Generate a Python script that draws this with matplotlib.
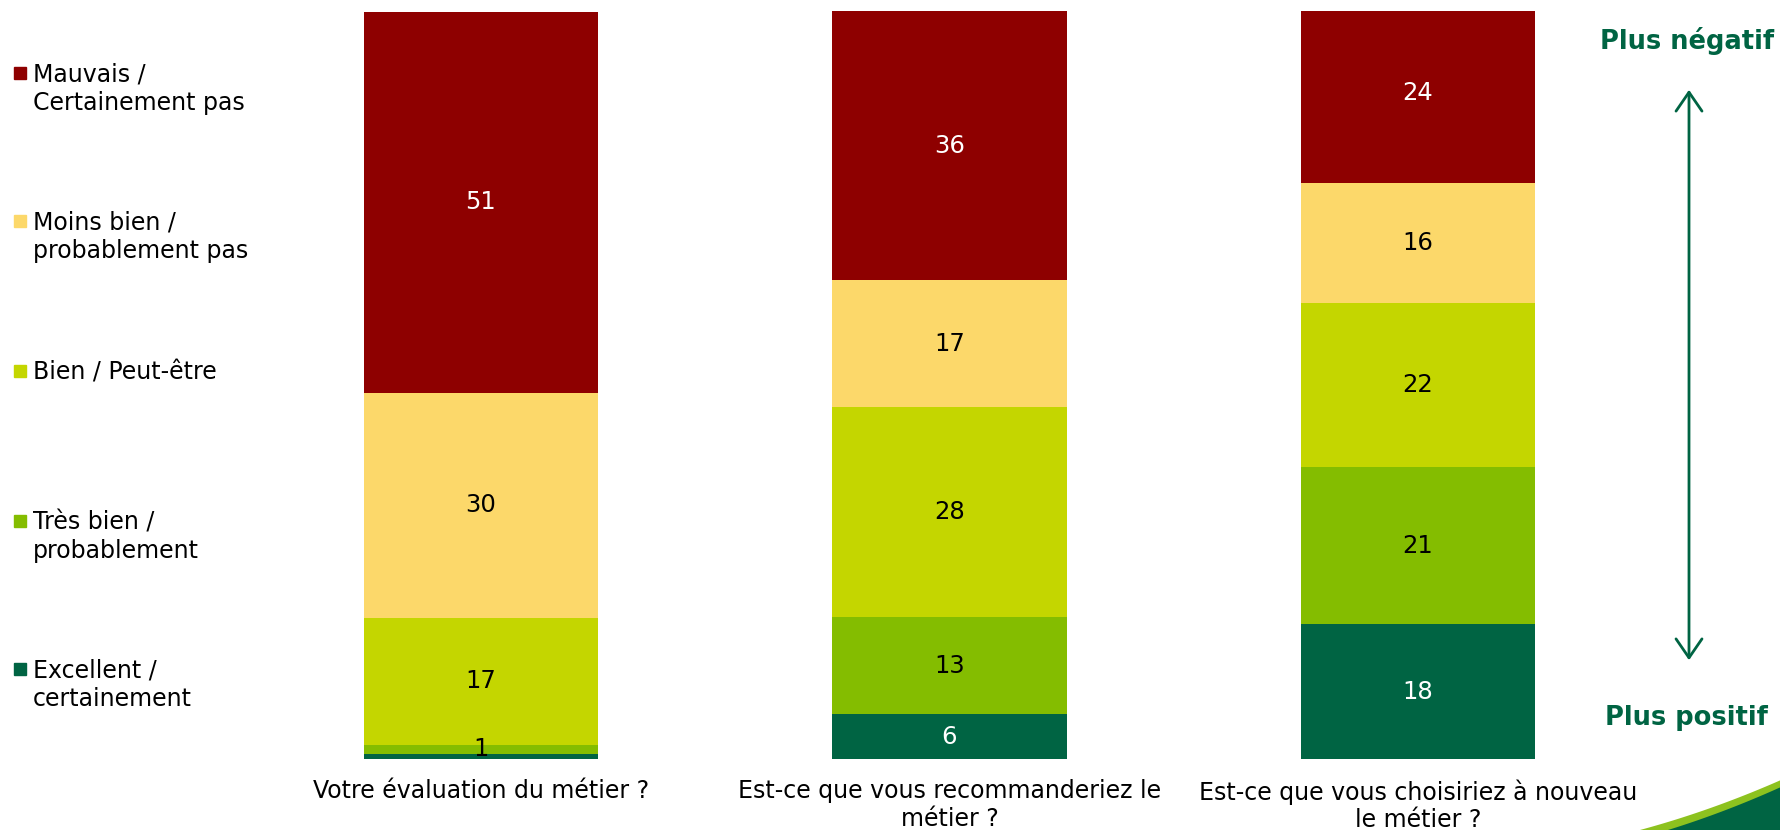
import matplotlib
matplotlib.use("Agg")
import matplotlib.pyplot as plt
from matplotlib.patches import Rectangle, Polygon, FancyArrowPatch
import numpy as np

plt.rcParams['font.family'] = ['DejaVu Sans']

questions = ["Votre évaluation du métier ?",
             "Est-ce que vous recommanderiez le\nmétier ?",
             "Est-ce que vous choisiriez à nouveau\nle métier ?"]
# bottom to top
categories = ["Excellent /\ncertainement",
              "Très bien /\nprobablement",
              "Bien / Peut-être",
              "Moins bien /\nprobablement pas",
              "Mauvais /\nCertainement pas"]
values = {
    "Excellent /\ncertainement":      [0.7, 6, 18],
    "Très bien /\nprobablement":      [1.2, 13, 21],
    "Bien / Peut-être":               [17, 28, 22],
    "Moins bien /\nprobablement pas": [30, 17, 16],
    "Mauvais /\nCertainement pas":    [51, 36, 24],
}
colors = ["#006443", "#84BD00", "#C4D600", "#FCD86A", "#8E0000"]
text_colors = ["white", "black", "black", "black", "white"]

W, H = 1781, 830
fig = plt.figure(figsize=(W / 100, H / 100), dpi=100)
ax = fig.add_axes([246.75 / W, 71 / H, 1405.5 / W, 748 / H])

x = np.arange(len(questions))
bottom = np.zeros(len(questions))
for cat, col, tc in zip(categories, colors, text_colors):
    v = np.array(values[cat], dtype=float)
    ax.bar(x, v, width=0.5, bottom=bottom, color=col, edgecolor='none')
    for xi, vi, bi in zip(x, v, bottom):
        if vi >= 1:
            ax.text(xi, bi + vi / 2, f"{round(vi):d}", ha='center', va='center',
                    fontsize=17.5, color=tc)
    bottom += v

ax.set_xlim(-0.5, 2.5)
ax.set_ylim(0, 100)
ax.axis('off')

for xi, q in zip(x, questions):
    ax.text(xi, -2.7, q, ha='center', va='top', fontsize=17, color='black',
            linespacing=1.2)

# legend (drawn manually, square aligned with first line)
first_line = [669, 521, 371, 221, 73]
for cat, col, y1 in zip(categories, colors, first_line):
    fig.patches.append(Rectangle((14 / W, 1 - (y1 + 6) / H), 12 / W, 12 / H,
                                 transform=fig.transFigure, color=col))
    fig.text(33 / W, 1 - (y1 - 11) / H, cat, ha='left', va='top',
             fontsize=17, linespacing=1.25)

green = "#006443"
fig.text(1687 / W, 1 - 41 / H, "Plus négatif", ha='center', va='center',
         fontsize=18.5, fontweight='bold', color=green)
fig.text(1686 / W, 1 - 718 / H, "Plus positif", ha='center', va='center',
         fontsize=18.5, fontweight='bold', color=green)
arr = FancyArrowPatch((1689 / W, 1 - 87 / H), (1689 / W, 1 - 663 / H),
                      transform=fig.transFigure, arrowstyle='<->,head_length=8,head_width=5.5',
                      color=green, lw=2, mutation_scale=1.7)
fig.patches.append(arr)

# decorative swoosh bottom right
t = np.linspace(0, 1, 40)
def curve(x0, y0, x1, y1, sag):
    xs = x0 + (x1 - x0) * t
    ys = y0 + (y1 - y0) * t + sag * t * (1 - t)
    return xs, ys
xs, ys = curve(1640, 830, 1781, 780, 12)
light = np.column_stack([np.r_[xs, 1781], np.r_[ys, 830]])
fig.patches.append(Polygon(np.column_stack([light[:, 0] / W, 1 - light[:, 1] / H]),
                           closed=True, transform=fig.transFigure,
                           color="#8DC21F", lw=0))
xs2, ys2 = curve(1668, 830, 1781, 787, 8)
dark = np.column_stack([np.r_[xs2, 1781], np.r_[ys2, 830]])
fig.patches.append(Polygon(np.column_stack([dark[:, 0] / W, 1 - dark[:, 1] / H]),
                           closed=True, transform=fig.transFigure,
                           color=green, lw=0))

fig.savefig("out.png", dpi=100)
